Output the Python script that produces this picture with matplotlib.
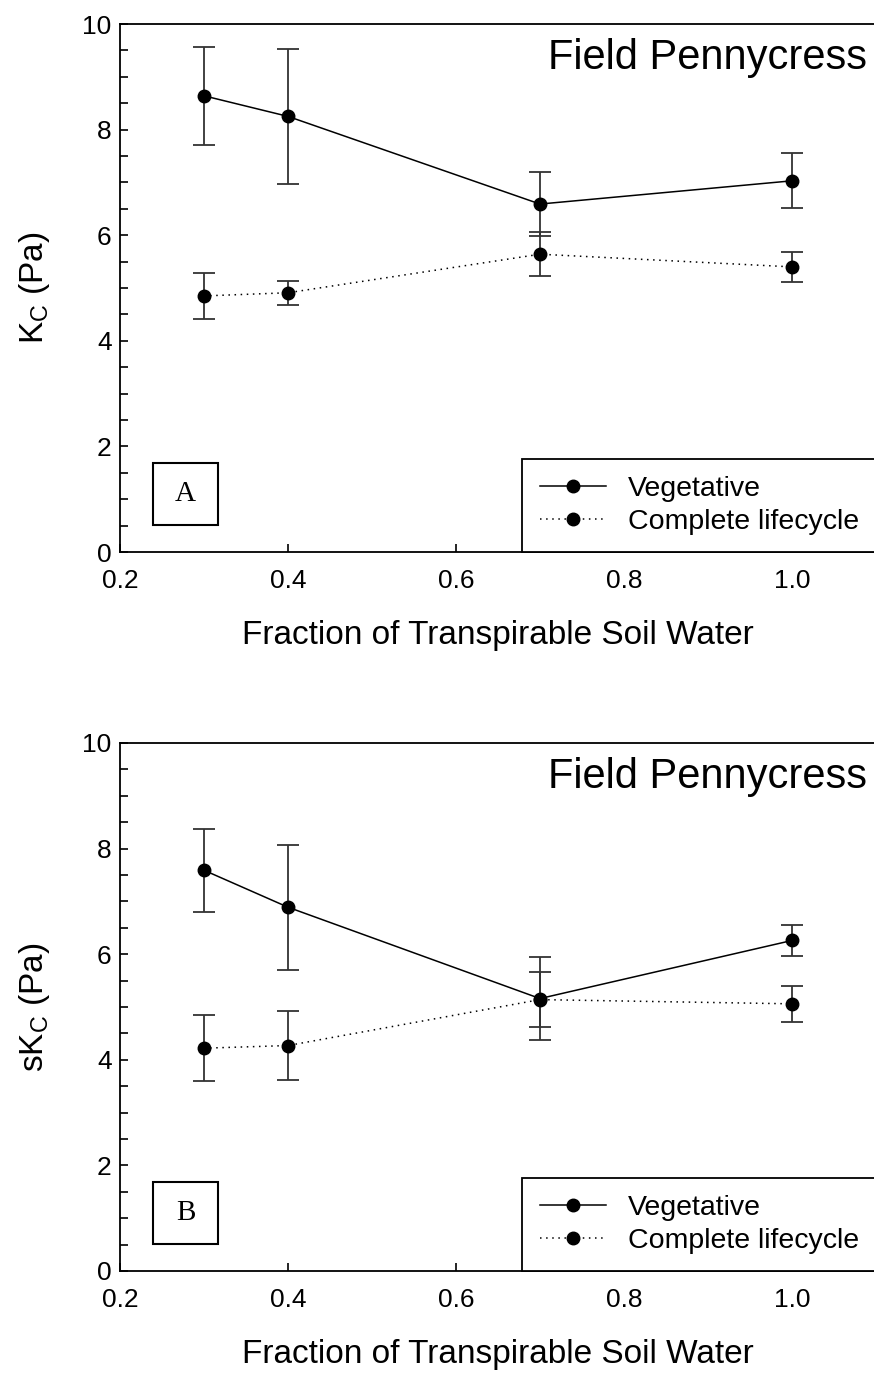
import matplotlib
matplotlib.use('Agg')
import matplotlib.pyplot as plt
from matplotlib.patches import Rectangle
from matplotlib.ticker import MultipleLocator

plt.rcParams['font.family'] = ['Liberation Sans', 'DejaVu Sans']

# ── Data ─────────────────────────────────────────────────────────────────
ftsw = [0.3, 0.4, 0.7, 1.0]

kc_veg = [8.64, 8.25, 6.59, 7.03]
kc_veg_err = [0.93, 1.28, 0.60, 0.52]
kc_life = [4.85, 4.91, 5.64, 5.40]
kc_life_err = [0.44, 0.23, 0.42, 0.28]

skc_veg = [7.59, 6.89, 5.16, 6.26]
skc_veg_err = [0.79, 1.18, 0.78, 0.30]
skc_life = [4.22, 4.27, 5.14, 5.06]
skc_life_err = [0.63, 0.66, 0.52, 0.34]

panels = [
    ('A', r'$\mathregular{K_C}$ (Pa)', kc_veg, kc_veg_err, kc_life, kc_life_err),
    ('B', r's$\mathregular{K_C}$ (Pa)', skc_veg, skc_veg_err, skc_life, skc_life_err),
]

W, H = 874, 1376
fig = plt.figure(figsize=(W / 100, H / 100), dpi=100)

ax_boxes = [
    [120 / W, 1 - 552 / H, 756 / W, 528 / H],
    [120 / W, 1 - 1271 / H, 756 / W, 528 / H],
]

ERR_CLR = '#333333'

for (tag, ylabel, veg, veg_err, life, life_err), box in zip(panels, ax_boxes):
    ax = fig.add_axes(box)

    ax.errorbar(ftsw, veg, yerr=veg_err, fmt='none', ecolor=ERR_CLR,
                elinewidth=1.3, capsize=8, capthick=1.3, zorder=2)
    ax.errorbar(ftsw, life, yerr=life_err, fmt='none', ecolor=ERR_CLR,
                elinewidth=1.3, capsize=8, capthick=1.3, zorder=2)
    l1, = ax.plot(ftsw, veg, '-', color='black', lw=1.1, marker='o',
                  ms=9, label='Vegetative', zorder=3)
    l2, = ax.plot(ftsw, life, color='black', lw=1.1, ls=(0, (1, 3)),
                  marker='o', ms=9, label='Complete lifecycle', zorder=3)

    ax.set_xlim(0.2, 1.1)
    ax.set_ylim(0, 10)
    ax.yaxis.set_major_locator(MultipleLocator(2))
    ax.yaxis.set_minor_locator(MultipleLocator(0.5))
    ax.set_xticks([0.2, 0.4, 0.6, 0.8, 1.0])
    ax.set_xticklabels(['0.2', '0.4', '0.6', '0.8', '1.0'])
    ax.tick_params(which='both', direction='in', length=6, width=1.2,
                   labelsize=19, top=False, right=False)
    ax.tick_params(axis='x', pad=12)
    ax.tick_params(axis='y', pad=6)
    for side in ['left', 'bottom', 'top']:
        ax.spines[side].set_linewidth(1.3)
    ax.spines['right'].set_visible(False)

    ax.set_xlabel('Fraction of Transpirable Soil Water', fontsize=24, labelpad=20)
    ax.set_ylabel(ylabel, fontsize=24, labelpad=22)

    ax.text(0.988, 0.915, 'Field Pennycress', transform=ax.transAxes,
            fontsize=30, ha='right', va='baseline')

    # panel letter box
    ax.add_patch(Rectangle((0.0437, 0.051), 0.086, 0.118, transform=ax.transAxes,
                           facecolor='white', edgecolor='black', lw=1.5,
                           zorder=5))
    ax.text(0.0866, 0.110, tag, transform=ax.transAxes, fontsize=21,
            family='Liberation Serif', ha='center', va='center', zorder=6)

    leg = ax.legend(handles=[l1, l2], loc='lower right', fontsize=20.5,
                    handlelength=2.35, handletextpad=0.75, borderaxespad=0,
                    borderpad=0.6, labelspacing=0.25, fancybox=False,
                    framealpha=1, edgecolor='black', numpoints=1)
    leg.get_frame().set_linewidth(1.3)

fig.savefig('out.png', dpi=100)
